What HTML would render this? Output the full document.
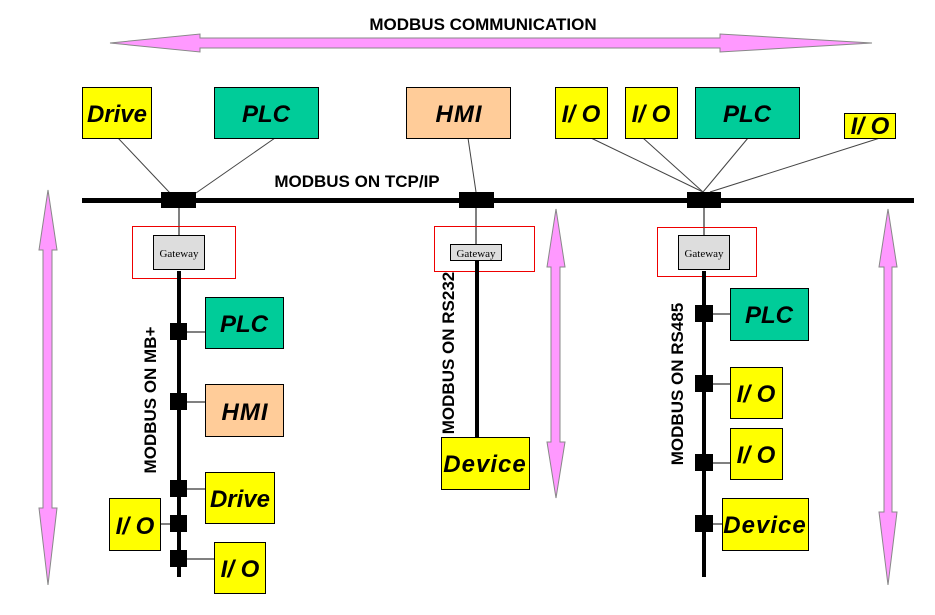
<!DOCTYPE html>
<html><head><meta charset="utf-8"><style>
html,body{margin:0;padding:0;background:#fff;}
svg{display:block;}
.n{font-family:"Liberation Sans",sans-serif;font-weight:bold;font-style:italic;font-size:24px;text-anchor:middle;}
.l{font-family:"Liberation Sans",sans-serif;font-weight:bold;font-size:17px;}
.g{font-family:"Liberation Serif",serif;font-size:11px;text-anchor:middle;}
</style></head><body>
<svg width="935" height="615" viewBox="0 0 935 615" xmlns="http://www.w3.org/2000/svg">
<polygon points="110,43 200,34 200,38 720,38 720,34 872,43 720,52 720,48 200,48 200,52" fill="#ff99ff" stroke="#888" stroke-width="1"/>
<text x="483" y="30" class="l" text-anchor="middle">MODBUS COMMUNICATION</text>
<g fill="#ff99ff" stroke="#888" stroke-width="1">
<polygon points="48,190 57,250 52,250 52,508 57,508 48,585 39,508 43,508 43,250 39,250"/>
<polygon points="556,209 565,267 560,267 560,442 565,442 556,498 547,442 551,442 551,267 547,267"/>
<polygon points="888,209 897,267 892,267 892,512 897,512 888,585 879,512 884,512 884,267 879,267"/>
</g>
<g stroke="#444" stroke-width="1">
<line x1="118" y1="138" x2="170" y2="193"/>
<line x1="275" y1="138" x2="196" y2="193"/>
<line x1="468" y1="138" x2="476" y2="192"/>
<line x1="591" y1="138" x2="703" y2="192"/>
<line x1="643" y1="138" x2="703" y2="192"/>
<line x1="748" y1="138" x2="703" y2="192"/>
<line x1="880" y1="138" x2="710" y2="192"/>
</g>
<rect x="82" y="198" width="832" height="5" fill="#000"/>
<rect x="161" y="192" width="35" height="16" fill="#000"/>
<rect x="459" y="192" width="35" height="16" fill="#000"/>
<rect x="687" y="192" width="34" height="16" fill="#000"/>
<text x="357" y="187" class="l" text-anchor="middle">MODBUS ON TCP/IP</text>
<g stroke="#000" stroke-width="1">
<line x1="179" y1="208" x2="179" y2="235"/>
<line x1="476" y1="208" x2="476" y2="244"/>
<line x1="704" y1="208" x2="704" y2="245"/>
</g>
<g fill="none" stroke="#e00" stroke-width="1">
<rect x="132.5" y="226.5" width="103" height="52"/>
<rect x="434.5" y="226.5" width="100" height="45"/>
<rect x="657.5" y="227.5" width="99" height="49"/>
</g>
<g fill="#ddd" stroke="#000" stroke-width="1">
<rect x="153.5" y="235.5" width="51" height="34"/>
<rect x="450.5" y="244.5" width="51" height="16"/>
<rect x="678.5" y="235.5" width="51" height="34"/>
</g>
<text x="179" y="257" class="g">Gateway</text>
<text x="476" y="257" class="g">Gateway</text>
<text x="704" y="257" class="g">Gateway</text>
<rect x="177" y="271" width="4" height="306" fill="#000"/>
<rect x="475" y="261" width="4" height="176" fill="#000"/>
<rect x="702" y="271" width="4" height="306" fill="#000"/>
<g fill="#000">
<rect x="170" y="323" width="17" height="17"/>
<rect x="170" y="393" width="17" height="17"/>
<rect x="170" y="480" width="17" height="17"/>
<rect x="170" y="515" width="17" height="17"/>
<rect x="170" y="550" width="17" height="17"/>
<rect x="695" y="305" width="18" height="17"/>
<rect x="695" y="375" width="18" height="17"/>
<rect x="695" y="454" width="18" height="17"/>
<rect x="695" y="515" width="18" height="17"/>
</g>
<g stroke="#000" stroke-width="1">
<line x1="187" y1="332" x2="205" y2="332"/>
<line x1="187" y1="402" x2="205" y2="402"/>
<line x1="187" y1="489" x2="205" y2="489"/>
<line x1="160" y1="524" x2="170" y2="524"/>
<line x1="187" y1="559" x2="214" y2="559"/>
<line x1="713" y1="314" x2="730" y2="314"/>
<line x1="713" y1="384" x2="730" y2="384"/>
<line x1="713" y1="463" x2="730" y2="463"/>
<line x1="713" y1="524" x2="722" y2="524"/>
</g>
<text transform="translate(156,400) rotate(-90)" class="l" text-anchor="middle">MODBUS ON MB+</text>
<text transform="translate(454,353) rotate(-90)" class="l" text-anchor="middle">MODBUS ON RS232</text>
<text transform="translate(683,384) rotate(-90)" class="l" text-anchor="middle">MODBUS ON RS485</text>
<g stroke="#000" stroke-width="1">
<rect x="82.5" y="87.5" width="69" height="51" fill="#ffff00"/>
<rect x="214.5" y="87.5" width="104" height="51" fill="#00cc99"/>
<rect x="406.5" y="87.5" width="104" height="51" fill="#ffcc99"/>
<rect x="555.5" y="87.5" width="52" height="51" fill="#ffff00"/>
<rect x="625.5" y="87.5" width="52" height="51" fill="#ffff00"/>
<rect x="695.5" y="87.5" width="104" height="51" fill="#00cc99"/>
<rect x="844.5" y="113.5" width="51" height="25" fill="#ffff00"/>
<rect x="205.5" y="297.5" width="78" height="51" fill="#00cc99"/>
<rect x="205.5" y="384.5" width="78" height="52" fill="#ffcc99"/>
<rect x="205.5" y="472.5" width="69" height="51" fill="#ffff00"/>
<rect x="109.5" y="498.5" width="51" height="52" fill="#ffff00"/>
<rect x="214.5" y="542.5" width="51" height="51" fill="#ffff00"/>
<rect x="441.5" y="437.5" width="88" height="52" fill="#ffff00"/>
<rect x="730.5" y="288.5" width="78" height="52" fill="#00cc99"/>
<rect x="730.5" y="367.5" width="52" height="51" fill="#ffff00"/>
<rect x="730.5" y="428.5" width="52" height="51" fill="#ffff00"/>
<rect x="722.5" y="498.5" width="86" height="52" fill="#ffff00"/>
</g>
<text x="117" y="122" class="n">Drive</text>
<text x="266" y="122" class="n">PLC</text>
<text x="459" y="122" class="n" letter-spacing="1">HMI</text>
<text x="581" y="122" class="n">I/ O</text>
<text x="651" y="122" class="n">I/ O</text>
<text x="747" y="122" class="n">PLC</text>
<text x="870" y="134" class="n">I/ O</text>
<text x="244" y="332" class="n">PLC</text>
<text x="245" y="420" class="n" letter-spacing="1">HMI</text>
<text x="240" y="507" class="n">Drive</text>
<text x="135" y="534" class="n">I/ O</text>
<text x="240" y="577" class="n">I/ O</text>
<text x="485" y="472" class="n" font-size="22" letter-spacing="1">Device</text>
<text x="769" y="323" class="n">PLC</text>
<text x="756" y="402" class="n">I/ O</text>
<text x="756" y="463" class="n">I/ O</text>
<text x="765" y="533" class="n" font-size="22" letter-spacing="1">Device</text>
</svg>
</body></html>
